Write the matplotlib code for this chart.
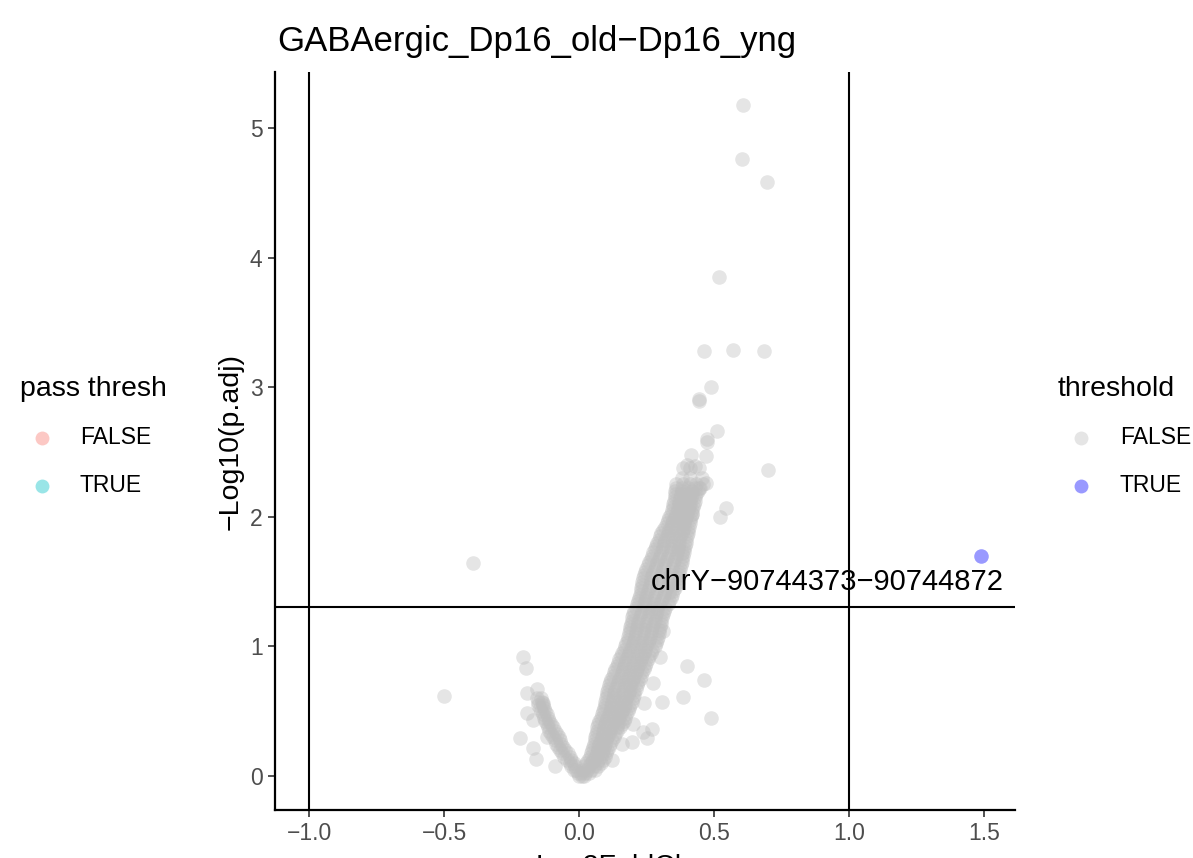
import matplotlib
matplotlib.use("Agg")
import matplotlib.pyplot as plt
from matplotlib.lines import Line2D

plt.rcParams['font.family'] = ['Liberation Sans', 'DejaVu Sans']

# ---------------- data ----------------
title = "GABAergic_Dp16_old\u2212Dp16_yng"
xlabel = "Log2FoldChange"
ylabel = "\u2212Log10(p.adj)"
x_ticks = [-1.0, -0.5, 0.0, 0.5, 1.0, 1.5]
x_ticklabels = ["\u22121.0", "\u22120.5", "0.0", "0.5", "1.0", "1.5"]
y_ticks = [0, 1, 2, 3, 4, 5]
fc_cutoff = [-1.0, 1.0]
padj_line = 1.30103

# dense right branch (rows of -log10 padj with log2FC values)
right_rows_y = [0.00, 0.05, 0.10, 0.15, 0.20, 0.25, 0.30, 0.35, 0.40, 0.45,
                0.50, 0.55, 0.60, 0.65, 0.70, 0.75, 0.80, 0.85, 0.90, 0.95,
                1.00, 1.05, 1.10, 1.15, 1.20, 1.25, 1.30, 1.35, 1.40, 1.45,
                1.50, 1.55, 1.60, 1.65, 1.70, 1.75, 1.80, 1.85, 1.90, 1.95,
                2.00, 2.05, 2.10, 2.15, 2.20, 2.25, 2.30, 2.38]
right_rows_x = [
    [0.000, 0.010, 0.020],
    [0.015, 0.030, 0.045, 0.060],
    [0.025, 0.045, 0.065, 0.080],
    [0.040, 0.060, 0.080, 0.095],
    [0.050, 0.070, 0.090, 0.105],
    [0.055, 0.075, 0.095, 0.115],
    [0.060, 0.085, 0.105, 0.130],
    [0.065, 0.090, 0.115, 0.140],
    [0.070, 0.095, 0.120, 0.145, 0.160],
    [0.080, 0.105, 0.130, 0.150, 0.170],
    [0.090, 0.115, 0.140, 0.160, 0.180],
    [0.095, 0.120, 0.145, 0.170, 0.190],
    [0.100, 0.125, 0.150, 0.175, 0.200],
    [0.105, 0.130, 0.160, 0.185, 0.205],
    [0.110, 0.140, 0.165, 0.190, 0.215],
    [0.120, 0.150, 0.175, 0.200, 0.225],
    [0.130, 0.160, 0.185, 0.210, 0.235],
    [0.140, 0.165, 0.195, 0.220, 0.245],
    [0.150, 0.175, 0.205, 0.230, 0.255],
    [0.160, 0.185, 0.215, 0.240, 0.265],
    [0.170, 0.195, 0.225, 0.250, 0.280],
    [0.180, 0.205, 0.235, 0.260, 0.290],
    [0.185, 0.210, 0.240, 0.265, 0.295],
    [0.190, 0.215, 0.245, 0.270, 0.300],
    [0.195, 0.220, 0.250, 0.280, 0.305],
    [0.200, 0.230, 0.260, 0.285, 0.310],
    [0.210, 0.240, 0.265, 0.290, 0.320],
    [0.220, 0.245, 0.275, 0.305, 0.335],
    [0.225, 0.250, 0.280, 0.315, 0.345],
    [0.230, 0.260, 0.290, 0.325, 0.355],
    [0.235, 0.265, 0.300, 0.335, 0.365],
    [0.240, 0.270, 0.305, 0.340, 0.370],
    [0.250, 0.280, 0.310, 0.345, 0.375],
    [0.260, 0.290, 0.320, 0.350, 0.380],
    [0.270, 0.300, 0.330, 0.360, 0.385],
    [0.280, 0.310, 0.340, 0.365, 0.390],
    [0.290, 0.315, 0.345, 0.370, 0.395],
    [0.300, 0.325, 0.350, 0.375, 0.400],
    [0.310, 0.335, 0.360, 0.385, 0.405],
    [0.325, 0.345, 0.370, 0.390, 0.410],
    [0.335, 0.355, 0.375, 0.395, 0.415],
    [0.345, 0.365, 0.385, 0.405, 0.420],
    [0.350, 0.370, 0.390, 0.410, 0.425],
    [0.355, 0.375, 0.395, 0.415, 0.430],
    [0.355, 0.380, 0.400, 0.420, 0.440],
    [0.360, 0.385, 0.410, 0.435, 0.460],
    [0.380, 0.410],
    [0.385, 0.410, 0.445],
]
right_mid_y = [0.025, 0.075, 0.125, 0.175, 0.225, 0.275, 0.325, 0.375, 0.425, 0.475,
               0.525, 0.575, 0.625, 0.675, 0.725, 0.775, 0.825, 0.875, 0.925, 0.975,
               1.025, 1.075, 1.125, 1.175, 1.225, 1.275, 1.325, 1.375, 1.425, 1.475,
               1.525, 1.575, 1.625, 1.675, 1.725, 1.775, 1.825, 1.875, 1.925, 1.975,
               2.025, 2.075, 2.125, 2.175, 2.225]
right_mid_x = [
    [0.008, 0.022, 0.038],
    [0.020, 0.038, 0.055, 0.072],
    [0.032, 0.052, 0.072, 0.090],
    [0.045, 0.065, 0.085, 0.100],
    [0.052, 0.072, 0.092, 0.110],
    [0.058, 0.080, 0.100, 0.122],
    [0.062, 0.088, 0.110, 0.135],
    [0.068, 0.092, 0.118, 0.142, 0.152],
    [0.075, 0.100, 0.125, 0.148, 0.165],
    [0.085, 0.110, 0.135, 0.155, 0.175],
    [0.092, 0.118, 0.142, 0.165, 0.185],
    [0.098, 0.122, 0.148, 0.172, 0.195],
    [0.102, 0.128, 0.155, 0.180, 0.202],
    [0.108, 0.135, 0.162, 0.188, 0.210],
    [0.115, 0.145, 0.170, 0.195, 0.220],
    [0.125, 0.155, 0.180, 0.205, 0.230],
    [0.135, 0.162, 0.190, 0.215, 0.240],
    [0.145, 0.170, 0.200, 0.225, 0.250],
    [0.155, 0.180, 0.210, 0.235, 0.260],
    [0.165, 0.190, 0.220, 0.245, 0.272],
    [0.175, 0.200, 0.230, 0.255, 0.285],
    [0.182, 0.208, 0.238, 0.262, 0.292],
    [0.188, 0.212, 0.242, 0.268, 0.298],
    [0.192, 0.218, 0.248, 0.275, 0.302],
    [0.198, 0.225, 0.255, 0.282, 0.308],
    [0.205, 0.235, 0.262, 0.288, 0.315],
    [0.215, 0.242, 0.270, 0.298, 0.328],
    [0.222, 0.248, 0.278, 0.310, 0.340],
    [0.228, 0.255, 0.285, 0.320, 0.350],
    [0.232, 0.262, 0.295, 0.330, 0.360],
    [0.238, 0.268, 0.302, 0.338, 0.368],
    [0.245, 0.275, 0.308, 0.342, 0.372],
    [0.255, 0.285, 0.315, 0.348, 0.378],
    [0.265, 0.295, 0.325, 0.355, 0.382],
    [0.275, 0.305, 0.335, 0.362, 0.388],
    [0.285, 0.312, 0.342, 0.368, 0.392],
    [0.295, 0.320, 0.348, 0.372, 0.398],
    [0.305, 0.330, 0.355, 0.380, 0.402],
    [0.318, 0.340, 0.365, 0.388, 0.408],
    [0.330, 0.350, 0.372, 0.392, 0.412],
    [0.340, 0.360, 0.380, 0.400, 0.418],
    [0.348, 0.368, 0.388, 0.408, 0.422],
    [0.352, 0.372, 0.392, 0.412, 0.428],
    [0.355, 0.378, 0.398, 0.418, 0.435],
    [0.358, 0.382, 0.405, 0.428, 0.450],
]

# thinner left branch
left_rows_y = [0.025, 0.05, 0.075, 0.10, 0.125, 0.15, 0.175, 0.20, 0.225, 0.25,
               0.275, 0.30, 0.325, 0.35, 0.375, 0.40, 0.425, 0.45, 0.475, 0.50,
               0.525, 0.55, 0.575, 0.60]
left_rows_x = [
    [-0.005], [-0.010, -0.020], [-0.015, -0.028], [-0.020, -0.035],
    [-0.028, -0.045], [-0.035, -0.055], [-0.042, -0.062], [-0.050, -0.070],
    [-0.058, -0.078], [-0.065, -0.085], [-0.070, -0.090], [-0.075, -0.095],
    [-0.082, -0.102], [-0.090, -0.110], [-0.098, -0.115], [-0.105, -0.120],
    [-0.110, -0.125], [-0.115, -0.130], [-0.120, -0.135], [-0.125, -0.140],
    [-0.130, -0.145], [-0.135, -0.150], [-0.138, -0.152], [-0.140, -0.155],
]

# scattered peaks not passing threshold
scatter_x = [0.607, 0.604, 0.696, 0.519, 0.463, 0.570, 0.685, 0.489, 0.444, 0.446,
             0.511, 0.474, 0.476, 0.415, 0.470, 0.700, 0.545, 0.522, -0.393, -0.500,
             0.400, 0.463, 0.385, 0.307, 0.489, 0.270, 0.237, 0.252, 0.196, 0.122,
             -0.207, -0.196, -0.219, -0.193, -0.156, -0.193, -0.170, -0.170, -0.160,
             -0.133, -0.120, -0.090, 0.310, 0.335, 0.380, 0.420, 0.445, 0.470, 0.300,
             0.275, 0.240, 0.200, 0.160, 0.400, 0.430, 0.455]
scatter_y = [5.18, 4.76, 4.58, 3.85, 3.28, 3.29, 3.28, 3.00, 2.89, 2.91,
             2.66, 2.58, 2.60, 2.48, 2.47, 2.36, 2.07, 2.00, 1.64, 0.62,
             0.85, 0.74, 0.61, 0.57, 0.45, 0.36, 0.34, 0.29, 0.26, 0.12,
             0.92, 0.83, 0.29, 0.64, 0.67, 0.49, 0.43, 0.22, 0.13,
             0.56, 0.30, 0.08, 1.12, 1.42, 1.72, 2.02, 2.22, 2.26, 0.92,
             0.72, 0.56, 0.40, 0.25, 2.40, 2.39, 2.30]

# significant feature
sig_x = [1.49]
sig_y = [1.70]
sig_label = "chrY\u221290744373\u221290744872"

pass_levels = ["FALSE", "TRUE"]
threshold_levels = ["FALSE", "TRUE"]

# ---------------- figure ----------------
W, H = 1193, 858
fig = plt.figure(figsize=(W / 100, H / 100), dpi=100)
ax = fig.add_axes([275 / W, (H - 810) / H, 740 / W, 738 / H])

grey_x, grey_y = [], []
for rows_y, rows_x in [(right_rows_y, right_rows_x), (right_mid_y, right_mid_x),
                       (left_rows_y, left_rows_x)]:
    for yv, xs in zip(rows_y, rows_x):
        grey_x += xs
        grey_y += [yv] * len(xs)
grey_x += scatter_x
grey_y += scatter_y

S = 110
ax.scatter(grey_x, grey_y, s=S, c='#BEBEBE', alpha=0.4, linewidths=0, zorder=2)
ax.scatter(sig_x, sig_y, s=S, c='#0000FF', alpha=0.4, linewidths=0, zorder=3)

for v in fc_cutoff:
    ax.axvline(v, color='black', lw=1.5, zorder=4)
ax.axhline(padj_line, color='black', lw=1.5, zorder=4)

ax.text(0.920, 1.435, sig_label, fontsize=21, ha='center', va='baseline',
        color='black', zorder=5)

ax.set_xlim(-1.126, 1.615)
ax.set_ylim(-0.262, 5.432)
ax.set_xticks(x_ticks)
ax.set_xticklabels(x_ticklabels)
ax.set_yticks(y_ticks)
for s in ['top', 'right']:
    ax.spines[s].set_visible(False)
for s in ['left', 'bottom']:
    ax.spines[s].set_linewidth(1.6)
    ax.spines[s].set_color('black')
ax.tick_params(axis='both', length=5, width=1.2, color='#333333',
               labelsize=16.5, labelcolor='#4D4D4D', pad=4)

# titles / axis labels
fig.text(277 / W, (H - 51) / H, title, fontsize=25, ha='left', va='baseline')
fig.text(645 / W, (H - 874) / H, xlabel, fontsize=20.5, ha='center', va='baseline')
fig.text(231 / W, (H - 441) / H, ylabel, fontsize=20.5, rotation=90,
         ha='center', va='center')

# legends
def draw_legend(title_txt, x_title, x_key, x_lab, levels, colors):
    fig.text(x_title / W, (H - 389) / H, title_txt, fontsize=20.5,
             ha='left', va='center')
    for i, (lev, col) in enumerate(zip(levels, colors)):
        yy = (H - (438 + 48 * i)) / H
        fig.add_artist(Line2D([x_key / W], [yy], marker='o', markersize=10,
                              markerfacecolor=col, markeredgewidth=0,
                              alpha=0.4, linestyle='none',
                              transform=fig.transFigure))
        fig.text(x_lab / W, yy, lev, fontsize=16.5, ha='left', va='center')

draw_legend("pass thresh", 20, 42, 80, pass_levels, ['#F8766D', '#00BFC4'])
draw_legend("threshold", 1058, 1081, 1120, threshold_levels, ['#BEBEBE', '#0000FF'])

fig.savefig("out.png", dpi=100)
